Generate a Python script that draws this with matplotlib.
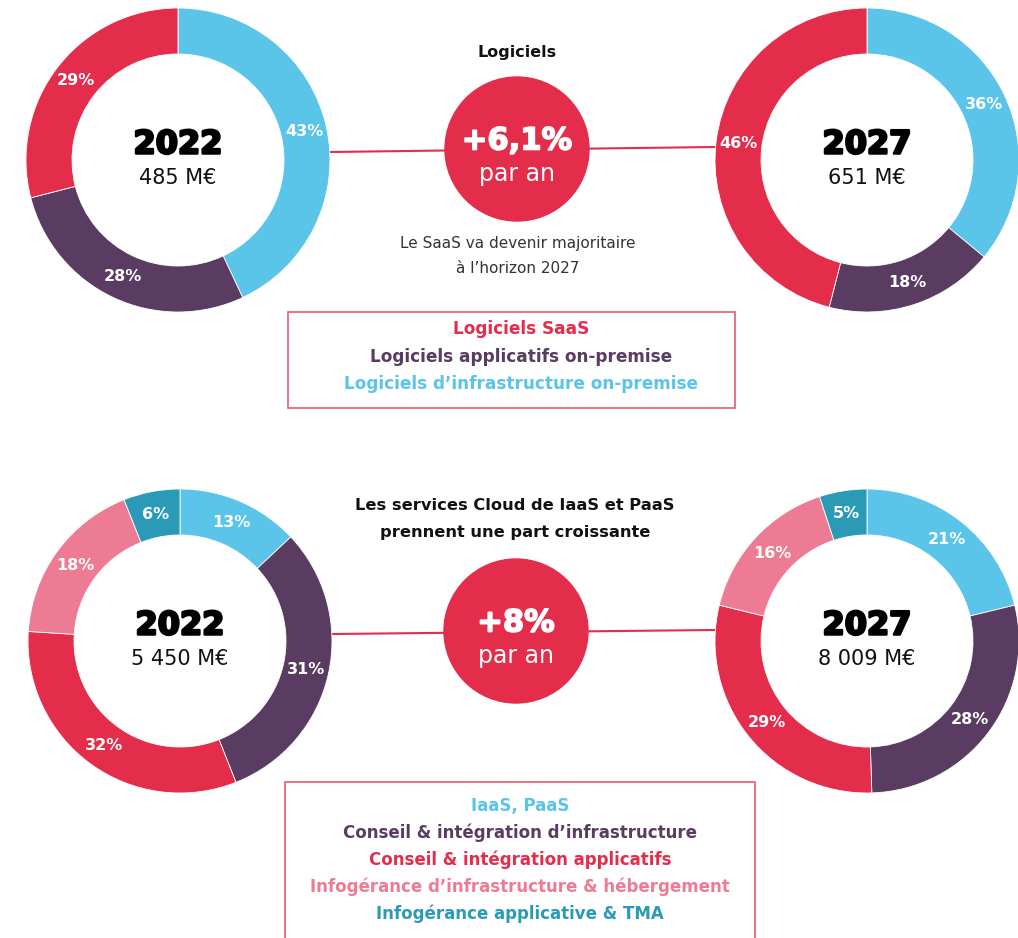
import matplotlib.pyplot as plt
import matplotlib.patheffects as pe
from matplotlib.patches import Circle, Rectangle

# couleurs
RED = '#e42c4b'
CYAN = '#5bc4e9'
PURPLE = '#5a3b61'
PINK = '#ec7b93'
TEAL = '#2a9ab7'

# --- Logiciels (ordre horaire depuis midi) ---
soft_names = ["Logiciels d’infrastructure on-premise",
              "Logiciels applicatifs on-premise",
              "Logiciels SaaS"]
soft_colors = [CYAN, PURPLE, RED]
soft_2022 = [43, 28, 29]
soft_2027 = [36, 18, 46]
soft_total = ["485 M€", "651 M€"]
soft_growth = "+6,1%"
soft_legend = ["Logiciels SaaS", "Logiciels applicatifs on-premise",
               "Logiciels d’infrastructure on-premise"]
soft_legend_colors = [RED, PURPLE, CYAN]

# --- Services ---
cloud_names = ["IaaS, PaaS", "Conseil & intégration d’infrastructure",
               "Conseil & intégration applicatifs",
               "Infogérance d’infrastructure & hébergement",
               "Infogérance applicative & TMA"]
cloud_colors = [CYAN, PURPLE, RED, PINK, TEAL]
cloud_2022 = [13, 31, 32, 18, 6]
cloud_2027 = [21, 28, 29, 16, 5]
cloud_total = ["5 450 M€", "8 009 M€"]
cloud_growth = "+8%"

years = ["2022", "2027"]

W, H = 1018, 938
fig = plt.figure(figsize=(W / 100, H / 100), dpi=100)
ax = fig.add_axes([0, 0, 1, 1])


def Y(y):
    return H - y


def donut(values, colors, cx, cy, year, total):
    ax.pie(values, colors=colors, startangle=90, counterclock=False,
           radius=152, center=(cx, Y(cy)),
           wedgeprops=dict(width=46, edgecolor='white', linewidth=0.6),
           autopct=lambda p: f"{p:.0f}%", pctdistance=0.85,
           textprops=dict(color='white', fontsize=11.5, fontweight='bold'))
    ax.text(cx, Y(cy - 15), year, ha='center', va='center', fontsize=23,
            fontweight='heavy', color='black',
            path_effects=[pe.withStroke(linewidth=1.8, foreground='black')])
    ax.text(cx, Y(cy + 18), total, ha='center', va='center', fontsize=15,
            color='#111111')


def growth(cx, cy, txt, x0, y0, x1, y1):
    ax.plot([x0, x1], [Y(y0), Y(y1)], color=RED, lw=1.5, zorder=0)
    ax.add_patch(Circle((cx, Y(cy)), 72, color=RED, zorder=3))
    ax.text(cx, Y(cy - 8), txt, ha='center', va='center', fontsize=22,
            fontweight='heavy', color='white', zorder=4,
            path_effects=[pe.withStroke(linewidth=1.2, foreground='white')])
    ax.text(cx, Y(cy + 25), "par an", ha='center', va='center', fontsize=17,
            color='white', zorder=4)


# haut
growth(517, 149, soft_growth, 330, 152, 715, 147)
donut(soft_2022, soft_colors, 178, 160, years[0], soft_total[0])
donut(soft_2027, soft_colors, 867, 160, years[1], soft_total[1])
ax.text(517, Y(52), "Logiciels", ha='center', va='center', fontsize=11.5,
        fontweight='bold', color='#111111')
ax.text(518, Y(243), "Le SaaS va devenir majoritaire", ha='center',
        va='center', fontsize=11, color='#333333')
ax.text(518, Y(268), "à l’horizon 2027", ha='center', va='center',
        fontsize=11, color='#333333')

ax.add_patch(Rectangle((288, Y(408)), 447, 96, fill=False,
                       edgecolor='#e8687d', lw=1.3))
for i, (t, c) in enumerate(zip(soft_legend, soft_legend_colors)):
    ax.text(521, Y(329 + 27.5 * i), t, ha='center', va='center',
            fontsize=12.2, fontweight='bold', color=c)

# bas
growth(516, 631, cloud_growth, 333, 634, 715, 630)
donut(cloud_2022, cloud_colors, 180, 641, years[0], cloud_total[0])
donut(cloud_2027, cloud_colors, 867, 641, years[1], cloud_total[1])
ax.text(515, Y(505), "Les services Cloud de IaaS et PaaS", ha='center',
        va='center', fontsize=11.7, fontweight='bold', color='#111111')
ax.text(515, Y(532), "prennent une part croissante", ha='center',
        va='center', fontsize=11.7, fontweight='bold', color='#111111')

ax.add_patch(Rectangle((285, Y(950)), 470, 168, fill=False,
                       edgecolor='#e8687d', lw=1.3))
for i, (t, c) in enumerate(zip(cloud_names, cloud_colors)):
    ax.text(520, Y(806 + 27 * i), t, ha='center', va='center',
            fontsize=12, fontweight='bold', color=c)

ax.set_xlim(0, W)
ax.set_ylim(0, H)
ax.set_aspect('equal')
ax.axis('off')
fig.savefig("out.png", dpi=100, facecolor='white')
